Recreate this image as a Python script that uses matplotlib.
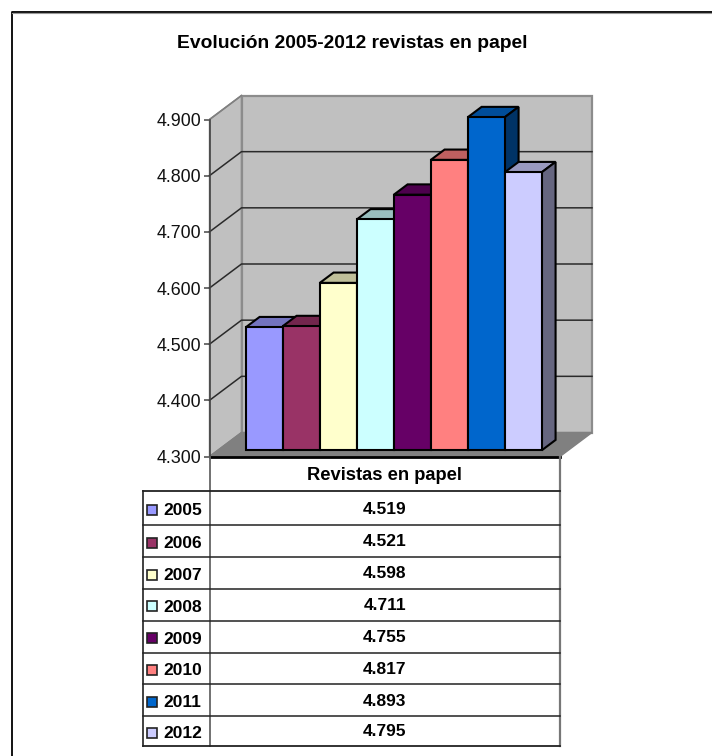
import matplotlib
matplotlib.use("Agg")
import matplotlib.pyplot as plt
from matplotlib.patches import Polygon, Rectangle
from matplotlib.ticker import FixedLocator, FixedFormatter

plt.rcParams['font.family'] = ['Liberation Sans', 'DejaVu Sans']

W, H = 712, 756
title = "Evolución 2005-2012 revistas en papel"
series_name = "Revistas en papel"
years = ["2005", "2006", "2007", "2008", "2009", "2010", "2011", "2012"]
values = [4519, 4521, 4598, 4711, 4755, 4817, 4893, 4795]
value_labels = ["4.519", "4.521", "4.598", "4.711", "4.755", "4.817", "4.893", "4.795"]
face = ["#9999FF", "#993366", "#FFFFCC", "#CCFFFF", "#660066", "#FF8080", "#0066CC", "#CCCCFF"]
top_c = ["#7373BF", "#73264D", "#BFBF99", "#99BFBF", "#4D004D", "#BF6060", "#004D99", "#9999BF"]
side_c = ["#4D4D80", "#4D1A33", "#808066", "#668080", "#330033", "#804040", "#003366", "#666680"]
y_ticks = [4300, 4400, 4500, 4600, 4700, 4800, 4900]
y_labels = ["4.300", "4.400", "4.500", "4.600", "4.700", "4.800", "4.900"]

fig = plt.figure(figsize=(W / 100, H / 100), dpi=100, facecolor="white")

# Page-level overlay, in pixel coordinates
page = fig.add_axes([0, 0, 1, 1])
page.set_xlim(0, W)
page.set_ylim(H, 0)
page.axis("off")
page.plot([11.5, 11.5, 712], [756, 11.5, 11.5], color="black", lw=1.3)
page.plot([12, 712], [12.8, 12.8], color="#999999", lw=0.8)
page.text(352.5, 43.5, title, ha="center", va="center", fontsize=13.9, fontweight="bold")

# Main axes: front plane of the 3-D box
L, R, T, B = 209.5, 560, 119.5, 456.5
ax = fig.add_axes([L / W, 1 - B / H, (R - L) / W, (B - T) / H])
bar_px = 37.0
first_bar_px = 237.5
ax.set_xlim((L - first_bar_px) / bar_px, (R - first_bar_px) / bar_px)
ax.set_ylim(4300, 4900)
ax.patch.set_visible(False)
for s in ax.spines.values():
    s.set_visible(False)
px_x = 1 / bar_px
px_y = 600 / (B - T)

def P(x, y, dpx=0.0, total=(32, 24)):
    """Project point at depth fraction dpx of the box."""
    return (x + dpx * total[0] * px_x, y + dpx * total[1] * px_y)

x0, x1 = ax.get_xlim()
y0, y1 = ax.get_ylim()
kw = dict(clip_on=False)
# walls
ax.add_patch(Polygon([P(x0, y0), P(x0, y0, 1), P(x0, y1, 1), P(x0, y1)], fc="#C0C0C0", ec="#808080", lw=1.0, **kw))
ax.add_patch(Polygon([P(x0, y0, 1), P(x1, y0, 1), P(x1, y1, 1), P(x0, y1, 1)], fc="#C0C0C0", ec="#8c8c8c", lw=1.6, **kw))
ax.add_patch(Polygon([P(x0, y0), P(x1, y0), P(x1, y0, 1), P(x0, y0, 1)], fc="#808080", ec="#808080", lw=1.0, **kw))
# gridlines
for v in y_ticks[1:-1]:
    ax.plot([P(x0, v)[0], P(x0, v, 1)[0], P(x1, v, 1)[0]], [P(x0, v)[1], P(x0, v, 1)[1], P(x1, v, 1)[1]],
            color="#2a2a2a", lw=1.1, zorder=2, **kw)
ax.plot([P(x0, y1)[0], P(x0, y1, 1)[0]], [P(x0, y1)[1], P(x0, y1, 1)[1]], color="#808080", lw=1.2, zorder=2, **kw)
# bars
d_front, d_back = 0.26, 0.69
z = 3
for i, v in enumerate(values):
    a, b = i, i + 1
    sq = dict(ec="black", lw=1.5, joinstyle="miter", zorder=z + i * 0.01, **kw)
    ax.add_patch(Polygon([P(a, v, d_front), P(b, v, d_front), P(b, v, d_back), P(a, v, d_back)], fc=top_c[i], **sq))
    ax.add_patch(Polygon([P(b, y0, d_front), P(b, y0, d_back), P(b, v, d_back), P(b, v, d_front)], fc=side_c[i], **sq))
for i, v in enumerate(values):
    a, b = i, i + 1
    ax.add_patch(Polygon([P(a, y0, d_front), P(b, y0, d_front), P(b, v, d_front), P(a, v, d_front)],
                         fc=face[i], ec="black", lw=1.5, joinstyle="miter", zorder=4 + i * 0.01, **kw))
# axes
ax.yaxis.set_major_locator(FixedLocator(y_ticks))
ax.yaxis.set_major_formatter(FixedFormatter(y_labels))
ax.tick_params(axis="y", length=4.5, width=1.2, color="#555555", labelsize=12.9, pad=1.5, labelcolor="#111111")
ax.set_xticks([])
ax.plot([x0, x0], [y0, y1], color="#444444", lw=1.2, zorder=5, **kw)
ax.plot([x0, x1], [y0, y0], color="black", lw=2.0, zorder=5, **kw)

# Data table, pixel layout on the page
tL, tC, tR = 142.5, 209.5, 560
hdr_top, hdr_bot = 456.5, 491
rows = [491, 525, 557, 589, 620.5, 652.5, 684, 716, 746]
page.set_zorder(2)
page.plot([tC, tC], [hdr_top, 746], color="#666666", lw=1.3)
page.plot([tR, tR], [hdr_top, 746], color="#777777", lw=1.6)
page.plot([tL, tL], [491, 746], color="#333333", lw=1.3)
for i, yy in enumerate(rows):
    page.plot([tL, tR], [yy, yy], color="#222222", lw=1.1 if i not in (0, 8) else 1.3)
page.text((tC + tR) / 2, 475, series_name, ha="center", va="center", fontsize=13.2, fontweight="bold")
for i, (yr, lab) in enumerate(zip(years, value_labels)):
    ytxt = (rows[i] + rows[i + 1]) / 2
    page.add_patch(Rectangle((147, ytxt - 3.5), 10, 10, fc=face[i], ec="#222222", lw=1.2))
    page.text(163, ytxt + 2.5, yr, ha="left", va="center", fontsize=12.5, fontweight="bold")
    page.text((tC + tR) / 2, ytxt + 1, lab, ha="center", va="center", fontsize=12.5, fontweight="bold")

fig.savefig("out.png", dpi=100, facecolor="white")
